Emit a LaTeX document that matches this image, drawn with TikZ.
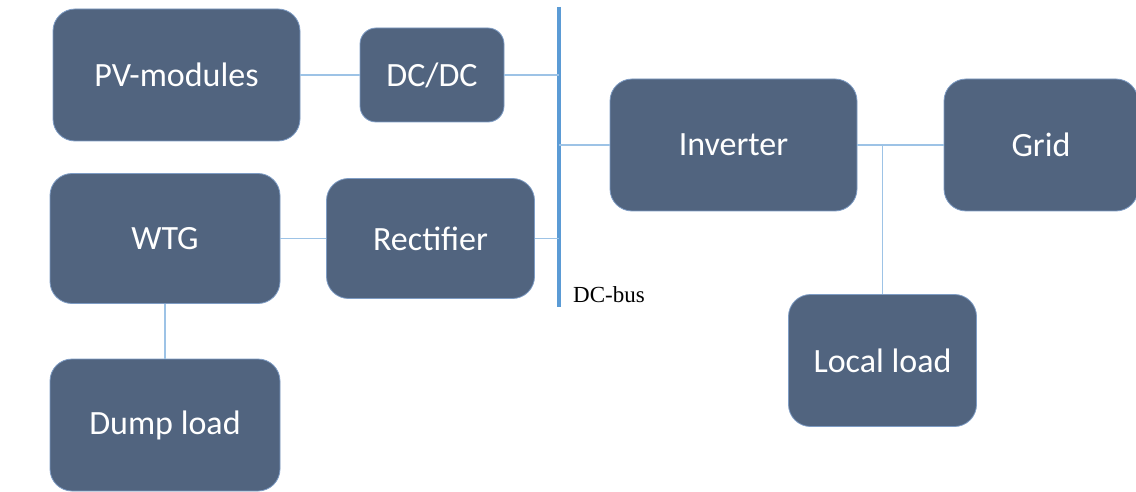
\documentclass[tikz,border=0pt]{standalone}
\usepackage{fontspec}
\usepackage{tikz}
\setmainfont{Liberation Serif}
\newfontfamily\boxfont{Carlito}
\definecolor{boxfill}{RGB}{81,100,127}
\definecolor{boxedge}{RGB}{126,156,196}
\definecolor{wire}{RGB}{157,195,230}
\definecolor{busblue}{RGB}{91,155,213}
\tikzset{
    unit/.style={draw=boxedge, line width=0.8, fill=boxfill, rounded corners=22,
        text=white, font=\boxfont\fontsize{34}{38}\selectfont, inner sep=0},
    wireline/.style={draw=wire, line width=1.3}
}

\begin{document}
\begin{tikzpicture}[x=1pt, y=-1pt]
    \useasboundingbox (0,0) rectangle (1136,492);

    \coordinate (BusTop) at (559,7);
    \coordinate (BusBot) at (559,307);

    % Sources
    \node[unit, minimum width=247, minimum height=132] (PV) at (176.5,75) {PV-modules};
    \node[unit, minimum width=144, minimum height=94, rounded corners=16] (DC) at (432,75) {DC/DC};
    \node[unit, minimum width=230, minimum height=130] (WTG) at (165,238.5) {WTG};
    \node[unit, minimum width=208, minimum height=120] (Rect) at (430.5,238.5) {Rectifier};
    \node[unit, minimum width=230, minimum height=132] (Dump) at (165,425) {Dump load};

    % AC side
    \node[unit, minimum width=247, minimum height=132] (Inv) at (733.5,145) {Inverter};
    \node[unit, minimum width=194, minimum height=132] (Grid) at (1041,145) {Grid};
    \node[unit, minimum width=188, minimum height=132] (Load) at (882.5,360.5) {Local load};

    % DC bus
    \draw[busblue, line width=4.5] (BusTop) -- (BusBot);
    \node[anchor=base west, font=\fontsize{23}{26}\selectfont, inner sep=0] (BusLabel) at (573,302) {DC-bus};

    % Wires
    \draw[wireline] (PV.east) -- (DC.west);
    \draw[wireline] (DC.east) -- (DC.east -| BusTop);
    \draw[wireline] (WTG.east) -- (Rect.west);
    \draw[wireline] (Rect.east) -- (Rect.east -| BusTop);
    \draw[wireline] (WTG.south) -- (Dump.north);
    \draw[wireline] (Inv.west -| BusTop) -- (Inv.west);
    \draw[wireline] (Inv.east) -- (Grid.west);
    \draw[wireline] (Load.north) -- (Load.north |- Inv.east);

\end{tikzpicture}
\end{document}
